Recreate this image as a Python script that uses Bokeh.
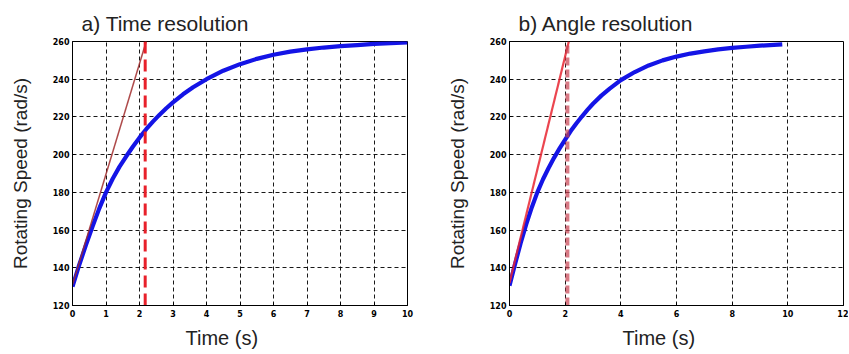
from bokeh.plotting import figure
from bokeh.layouts import row
from bokeh.models import Range1d, FixedTicker, Title
from bokeh.embed import file_html
from bokeh.resources import INLINE

# ---- data ----
titles = ["a) Time resolution", "b) Angle resolution"]
x_label = "Time (s)"
y_label = "Rotating Speed (rad/s)"
y_ticks = [120, 140, 160, 180, 200, 220, 240, 260]
x_ticks_a = [0, 1, 2, 3, 4, 5, 6, 7, 8, 9, 10]
x_ticks_b = [0, 2, 4, 6, 8, 10, 12]

t_a = [0, 0.2, 0.4, 0.6, 0.8, 1.0, 1.2, 1.4, 1.6, 1.8, 2.0, 2.2, 2.4, 2.6, 2.8, 3.0,
       3.3, 3.6, 4.0, 4.5, 5.0, 5.5, 6.0, 6.5, 7.0, 7.5, 8.0, 8.5, 9.0, 9.5, 10.0]
speed_a = [130, 141.5, 152, 162, 171.5, 180, 187.2, 193.5, 199, 204.2, 209, 213.5, 217.5, 221.2, 224.6, 227.7,
           232, 235.7, 240, 244.5, 248, 250.8, 253, 254.6, 255.8, 256.8, 257.5, 258.1, 258.7, 259.1, 259.5]
tangent_a_t = [0, 2.2]
tangent_a_v = [131, 260]
tau_a = [2.17]

t_b = [0, 0.2, 0.4, 0.6, 0.8, 1.0, 1.2, 1.4, 1.6, 1.8, 2.0, 2.2, 2.4, 2.6, 2.8, 3.0,
       3.3, 3.6, 4.0, 4.5, 5.0, 5.5, 6.0, 6.5, 7.0, 7.5, 8.0, 8.5, 9.0, 9.5, 9.8]
speed_b = [130.5, 142, 153, 163, 172, 180, 186.8, 192.8, 198.3, 203.3, 208, 212.5, 216.5, 220.2, 223.7, 227,
           231.3, 235, 239.5, 243.8, 247.3, 250, 252, 253.6, 254.8, 255.8, 256.6, 257.2, 257.8, 258.2, 258.5]
tangent_b_t = [0, 2.13]
tangent_b_v = [132, 260]
tau_b = [2.08]

FONT = "Liberation Sans"
H = 353


def make(title, xmax, xticks, t, v, tt, tv, tau, w, bl, br, tan_color, tan_w, dash_color, dash_w, dash_alpha, dash_pat):
    p = figure(width=w, height=H, output_backend="svg", toolbar_location=None,
               x_range=Range1d(0, xmax), y_range=Range1d(120, 260),
               min_border_left=bl, min_border_right=br, min_border_top=41, min_border_bottom=48)
    p.title.text = title
    p.title.align = "left"
    p.title.offset = 9
    p.title.text_font = FONT
    p.title.text_font_size = "21px"
    p.title.text_font_style = "normal"
    p.title.text_color = "#222222"
    p.title.standoff = 14
    p.outline_line_color = "black"
    p.outline_line_width = 1
    p.outline_line_alpha = 1
    p.background_fill_color = "white"
    p.border_fill_color = "white"

    p.xaxis.ticker = FixedTicker(ticks=xticks)
    p.yaxis.ticker = FixedTicker(ticks=y_ticks)
    for ax in (p.xaxis[0], p.yaxis[0]):
        ax.major_tick_in = 3
        ax.major_tick_out = 0
        ax.minor_tick_line_color = None
        ax.axis_line_color = "black"
        ax.major_tick_line_color = "black"
        ax.major_label_text_font = "DejaVu Sans"
        ax.major_label_text_font_style = "bold"
        ax.major_label_text_font_size = "8px"
        ax.major_label_text_color = "black"
        ax.axis_label_text_font = FONT
        ax.axis_label_text_font_style = "normal"
        ax.axis_label_text_font_size = "19px"
        ax.axis_label_text_color = "#222222"
    p.xaxis.major_label_standoff = 4
    p.yaxis.major_label_standoff = 3
    p.yaxis.axis_label = y_label
    p.yaxis.axis_label_standoff = 19

    xt = Title(text=x_label, align="left", offset=113, text_font=FONT, text_font_size="20px",
               text_font_style="normal", text_color="#222222", standoff=10)
    p.add_layout(xt, "below")

    for g in (p.xgrid[0], p.ygrid[0]):
        g.grid_line_color = "black"
        g.grid_line_dash = "4 3"
        g.grid_line_width = 1
        g.grid_line_alpha = 0.9

    p.line(t, v, line_color="#1414e6", line_width=4.2, line_join="round")
    p.line(tt, tv, line_color=tan_color, line_width=tan_w, line_alpha=0.85)
    p.line([tau[0], tau[0]], [120, 260], line_color=dash_color, line_width=dash_w,
           line_alpha=dash_alpha, line_dash=dash_pat)
    return p


p1 = make(titles[0], 10, x_ticks_a, t_a, speed_a, tangent_a_t, tangent_a_v, tau_a,
          440, 72, 33, "#a02a2a", 1.5, "#e8202a", 3, 1.0, "12 6")
p2 = make(titles[1], 12, x_ticks_b, t_b, speed_b, tangent_b_t, tangent_b_v, tau_b,
          408, 69, 5, "#e82530", 2.2, "#c84050", 4, 0.7, "8 4")

p = row(p1, p2)
open("out.html", "w").write(file_html(p, INLINE))
